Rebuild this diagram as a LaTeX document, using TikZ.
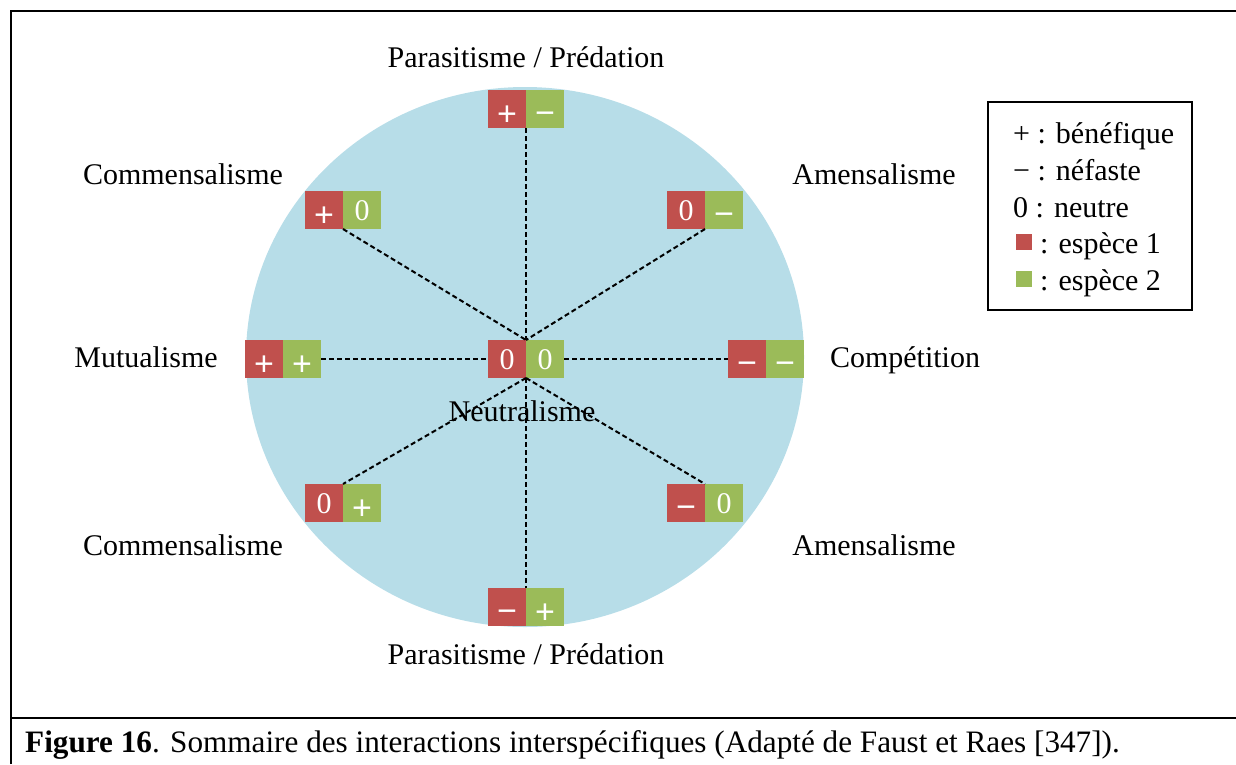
\documentclass[tikz,border=0pt]{standalone}
\usepackage{fontspec}
\setmainfont{Liberation Serif}
\newfontfamily\symfont{Liberation Sans}
\definecolor{sp1}{HTML}{C0504D}
\definecolor{sp2}{HTML}{9BBB59}
\definecolor{disc}{HTML}{B7DDE8}
\newcommand{\pl}{\raisebox{-6pt}{\symfont\fontsize{34}{34}\selectfont +}}
\newcommand{\mi}{\raisebox{-5.5pt}{\symfont\fontsize{34}{34}\selectfont\char"2212}}
\begin{document}
\begin{tikzpicture}[x=1pt,y=-1pt,
  cell/.style={minimum size=38pt,inner sep=0pt,outer sep=0pt,text=white,text height=20pt,text depth=0pt,font=\fontsize{30}{30}\selectfont},
  rc/.style={cell,fill=sp1},
  gc/.style={cell,fill=sp2},
  lbl/.style={font=\fontsize{30}{34}\selectfont,inner sep=0pt,anchor=base},
  link/.style={dashed,dash pattern=on 5pt off 3pt,line width=2pt},
  frame/.style={line width=2pt}]
\useasboundingbox (0,0) rectangle (1236,764);
% frame
\draw[frame] (11,764) -- (11,11) -- (1236,11);
\draw[frame] (11,718) -- (1236,718);
% disc
\fill[disc] (525,357) ellipse [x radius=279, y radius=270];
% boxes
\node[rc] (t1) at (507,109) {\pl};
\node[gc] (t2) at (545,109) {\mi};
\node[rc] (ul1) at (324,210) {\pl};
\node[gc] (ul2) at (362,210) {0};
\node[rc] (ur1) at (686,210) {0};
\node[gc] (ur2) at (724,210) {\mi};
\node[rc] (l1) at (264,359) {\pl};
\node[gc] (l2) at (302,359) {\pl};
\node[rc] (c1) at (507,359) {0};
\node[gc] (c2) at (545,359) {0};
\node[rc] (r1) at (747,359) {\mi};
\node[gc] (r2) at (785,359) {\mi};
\node[rc] (ll1) at (324,503) {0};
\node[gc] (ll2) at (362,503) {\pl};
\node[rc] (lr1) at (686,503) {\mi};
\node[gc] (lr2) at (724,503) {0};
\node[rc] (b1) at (507,607) {\mi};
\node[gc] (b2) at (545,607) {\pl};
% links
\draw[link] (t1.south east) -- (c1.north east);
\draw[link] (ul1.south east) -- (c1.north east);
\draw[link] (ur1.south east) -- (c1.north east);
\draw[link] (l2.east) -- (c1.west);
\draw[link] (c2.east) -- (r1.west);
\draw[link] (c1.south east) -- (ll1.north east);
\draw[link] (c1.south east) -- (lr1.north east);
\draw[link] (c1.south east) -- (b1.north east);
% labels
\node[lbl] (lt) at (526,67) {Parasitisme / Prédation};
\node[lbl] (lul) at (183,184) {Commensalisme};
\node[lbl] (lur) at (874,184) {Amensalisme};
\node[lbl] (ll) at (146,367) {Mutualisme};
\node[lbl] (lr) at (905,367) {Compétition};
\node[lbl] (lc) at (522,421) {Neutralisme};
\node[lbl] (lll) at (183,555) {Commensalisme};
\node[lbl] (llr) at (874,555) {Amensalisme};
\node[lbl] (lb) at (526,664) {Parasitisme / Prédation};
% legend
\node[draw,line width=1.5pt,minimum width=204pt,minimum height=208pt,inner sep=0pt] (legend) at (1090,206) {};
\node[lbl,anchor=base west] (k1) at (1013,143) {+ : bénéfique};
\node[lbl,anchor=base west] (k2) at (1013,180) {\char"2212\ : néfaste};
\node[lbl,anchor=base west] (k3) at (1013,217) {0 : neutre};
\node[fill=sp1,minimum size=16pt,inner sep=0pt] (s1) at (1024,242) {};
\node[lbl,anchor=base west] (k4) at (1040,253) {: espèce 1};
\node[fill=sp2,minimum size=16pt,inner sep=0pt] (s2) at (1024,279) {};
\node[lbl,anchor=base west] (k5) at (1040,290) {: espèce 2};
% caption
\node[font=\fontsize{31.2}{34}\selectfont,inner sep=0pt,anchor=base west] (cap) at (25,752) {\textbf{Figure 16}. Sommaire des interactions interspécifiques (Adapté de Faust et Raes [347]).};
\end{tikzpicture}
\end{document}
